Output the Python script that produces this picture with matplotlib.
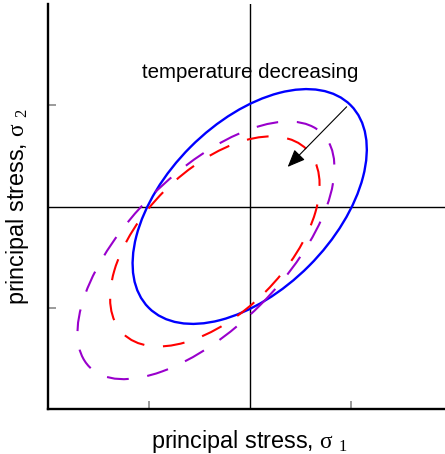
import matplotlib
matplotlib.use("Agg")
import matplotlib.pyplot as plt
from matplotlib.patches import Ellipse

# ---- data (stress-space ellipses, data units) ----
series_names = ["current", "cooler", "coolest"]
center_x = [0.0, -0.345, -0.433]
center_y = [0.0, -0.345, -0.433]
semi_major = [1.414, 1.286, 1.630]
semi_minor = [0.830, 0.706, 0.762]
tilt_deg = [45.0, 45.0, 45.0]

arrow_start = (0.96, 0.985)
arrow_end = (0.376, 0.391)
annotation_text = "temperature decreasing"
annotation_pos = (0.0, 1.27)
tick_values = [-1, 1]
xlabel_text = r"principal stress, $\mathrm{\sigma}\ {}_{\mathrm{1}}$"
ylabel_text = r"principal stress, $\mathrm{\sigma}\ {}_{\mathrm{2}}$"

# ---- styling ----
plt.rcParams["font.family"] = ["Liberation Sans", "DejaVu Sans"]
plt.rcParams["mathtext.fontset"] = "custom"
plt.rcParams["mathtext.rm"] = "Liberation Serif"
plt.rcParams["mathtext.it"] = "Liberation Serif:italic"
plt.rcParams["mathtext.bf"] = "Liberation Serif:bold"

colors = ["#0000FF", "#FF0000", "#9900CC"]
widths = [1.7, 1.5, 1.5]
styles = ["solid", (0, (10.5, 9.0)), (0, (10.5, 9.0))]

W, H = 445, 454
fig = plt.figure(figsize=(W / 100, H / 100), dpi=100)
ax = fig.add_axes([47.7 / W, (H - 409) / H, 404 / W, 405 / H])
ax.set_xlim(-2, 2)
ax.set_ylim(-2, 2)

ax.axhline(0, color="black", lw=1.0, zorder=1)
ax.axvline(0, color="black", lw=1.0, zorder=1)

for cx, cy, a, b, ang, c, lw, ls in zip(center_x, center_y, semi_major, semi_minor,
                                        tilt_deg, colors, widths, styles):
    e = Ellipse((cx, cy), 2 * a, 2 * b, angle=ang, fill=False, edgecolor=c,
                lw=lw, linestyle=ls, zorder=3)
    ax.add_patch(e)

ax.annotate("", xy=arrow_end, xytext=arrow_start,
            arrowprops=dict(arrowstyle="-|>,head_length=0.6,head_width=0.25",
                            mutation_scale=18, lw=0.8, color="black",
                            shrinkA=0, shrinkB=0), zorder=4)
ax.text(annotation_pos[0], annotation_pos[1], annotation_text, ha="center",
        va="baseline", fontsize=14.8, color="black", zorder=5)

for side in ["top", "right"]:
    ax.spines[side].set_visible(False)
for side in ["left", "bottom"]:
    ax.spines[side].set_linewidth(1.7)
    ax.spines[side].set_color("black")

ax.set_xticks(tick_values)
ax.set_yticks(tick_values)
ax.tick_params(direction="in", length=5.5, width=1.1, color="#808080",
               labelbottom=False, labelleft=False)

ax.set_xlabel(xlabel_text, fontsize=16.8)
ax.set_ylabel(ylabel_text, fontsize=16.8)
ax.xaxis.set_label_coords(0.5, -0.047)
ax.yaxis.set_label_coords(-0.042, 0.5)

fig.savefig("out.png", dpi=100)
